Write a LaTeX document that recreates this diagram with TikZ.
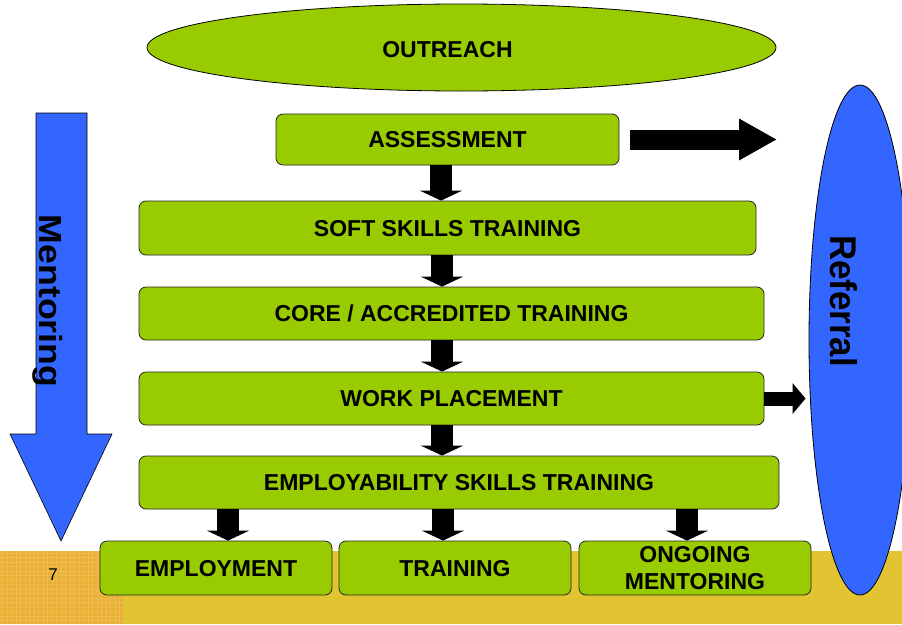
\documentclass[tikz,border=0pt]{standalone}
\usepackage{fontspec}
\setmainfont{Liberation Sans}
\usetikzlibrary{shapes.geometric,arrows.meta,calc}
\definecolor{boxgreen}{RGB}{153,204,0}
\definecolor{refblue}{RGB}{51,102,255}
\definecolor{bandyellow}{RGB}{226,196,50}
\definecolor{bandorange}{RGB}{232,176,52}
\definecolor{gridc}{RGB}{238,188,78}
\begin{document}
\begin{tikzpicture}[x=1pt,y=-1pt,
  boxbase/.style={draw=black!85, line width=0.8pt, fill=boxgreen, rounded corners=7pt,
    font=\bfseries\fontsize{23}{27}\selectfont, inner sep=0pt},
  stepbox/.style={boxbase, text height=16.5pt, text depth=0pt},
  downarrow/.style={black, line width=22pt, -{Triangle[width=42pt,length=10pt]}},
  bigtext/.style={font=\bfseries\fontsize{23}{27}\selectfont, inner sep=0pt},
]
\useasboundingbox (0,0) rectangle (902,624);
\clip (0,0) rectangle (902,624);
\fill[white] (0,0) rectangle (902,624);
% bottom band
\fill[bandyellow] (0,551) rectangle (902,624);
\fill[bandorange] (0,551) rectangle (123,624);
\foreach \g in {2.5,7,...,123} {
  \draw[gridc, line width=0.5pt] (\g,551) -- (\g,624);
}
\foreach \g in {553,557.5,...,624} {
  \draw[gridc, line width=0.5pt] (0,\g) -- (123,\g);
}
\node[inner sep=0pt, font=\fontsize{17}{20}\selectfont] (pagenum) at (53,575) {7};

% outreach
\node[ellipse, draw=black, line width=0.8pt, fill=boxgreen, minimum width=629pt,
  minimum height=87pt, inner sep=0pt] (outreach) at (461.5,47.5) {};
\node[bigtext] (outreachlabel) at (447.5,50) {OUTREACH};

% mentoring arrow
\draw[fill=refblue, draw=black, line width=0.6pt, line join=miter]
  (36,113) -- (87,113) -- (87,434) -- (112,434) -- (61,541) -- (10,434) -- (36,434) -- cycle;
\node[rotate=-90, inner sep=0pt] (mentoring) at (48,301)
  {\resizebox*{172pt}{30pt}{\bfseries Mentoring}};

% referral ellipse
\node[ellipse, draw=black, line width=0.8pt, fill=refblue, minimum width=102pt,
  minimum height=510pt, inner sep=0pt] (referral) at (860,340) {};
\node[rotate=-90, inner sep=0pt] (referrallabel) at (843.5,301)
  {\resizebox{132pt}{27pt}{\bfseries Referral}};

% boxes
\node[stepbox, minimum width=343pt, minimum height=51pt] (ass) at (447.5,139.5) {ASSESSMENT};
\node[stepbox, minimum width=617pt, minimum height=54pt] (soft) at (447.5,228) {SOFT SKILLS TRAINING};
\node[stepbox, minimum width=625pt, minimum height=53pt] (core) at (451.5,313.5) {CORE / ACCREDITED TRAINING};
\node[stepbox, minimum width=625pt, minimum height=53pt] (work) at (451.5,398.5) {WORK PLACEMENT};
\node[stepbox, minimum width=640pt, minimum height=53pt] (emp) at (459,482.5) {EMPLOYABILITY SKILLS TRAINING};
\node[stepbox, minimum width=232pt, minimum height=54pt] (employment) at (216,568) {EMPLOYMENT};
\node[stepbox, minimum width=232pt, minimum height=54pt] (training) at (455,568) {TRAINING};
\node[boxbase, align=center, minimum width=232pt, minimum height=54pt] (ongoing) at (695,568) {ONGOING\\MENTORING};

% down arrows
\draw[downarrow] ([xshift=-6.5pt]ass.south) -- ([xshift=-6.5pt]soft.north);
\draw[downarrow] ([xshift=-5.5pt]soft.south) -- ([xshift=-5.5pt]soft.south |- core.north);
\draw[downarrow] ([xshift=-9.5pt]core.south) -- ([xshift=-9.5pt]work.north);
\draw[downarrow] ([xshift=-9.5pt]work.south) -- ([xshift=-9.5pt]work.south |- emp.north);
\draw[downarrow] ([xshift=12pt]employment.north |- emp.south) -- ([xshift=12pt]employment.north);
\draw[downarrow] ([xshift=-12pt]training.north |- emp.south) -- ([xshift=-12pt]training.north);
\draw[downarrow] ([xshift=-8pt]ongoing.north |- emp.south) -- ([xshift=-8pt]ongoing.north);

% right arrows to referral
\coordinate (refin) at (777,139.5);
\draw[black, line width=20pt, -{Triangle[width=39pt,length=38pt]}] ([xshift=11pt]ass.east) -- (refin);
\draw[black, line width=14pt, -{Triangle[width=30pt,length=13pt]}] (work.east) -- ([xshift=-3pt]work.east -| referral.west);
\end{tikzpicture}
\end{document}
